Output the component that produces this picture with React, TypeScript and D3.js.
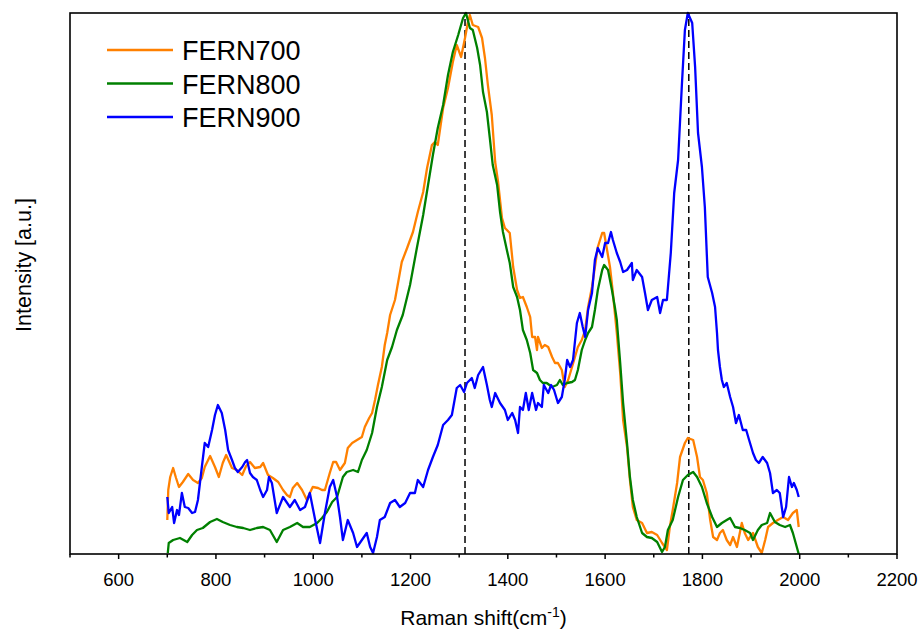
import React from "react";
import * as d3 from "d3";

const fern700: [number, number][] = [
  [700,34],[702,64],[706,77],[712,86],[718,76],[724,67],[732,72],[743,80],[753,74],[763,71],[771,76],[777,87],[788,98],[798,87],[806,77],[814,91],[821,99],[833,86],[843,84],[854,79],[862,88],[870,92],[880,86],[891,87],[897,91],[907,79],[917,76],[928,72],[938,64],[946,59],[952,57],[958,66],[967,71],[977,64],[987,54],[993,61],[999,67],[1010,66],[1018,64],[1024,64],[1034,81],[1041,92],[1047,92],[1055,84],[1065,91],[1071,106],[1080,111],[1090,114],[1100,117],[1106,127],[1115,136],[1121,141],[1127,154],[1133,169],[1141,187],[1147,209],[1152,221],[1158,239],[1168,254],[1182,292],[1193,306],[1205,322],[1215,342],[1226,362],[1234,386],[1244,409],[1250,412],[1256,409],[1267,446],[1277,466],[1287,492],[1295,509],[1304,497],[1312,516],[1318,532],[1322,539],[1328,529],[1339,527],[1347,516],[1353,496],[1359,469],[1367,439],[1374,392],[1380,372],[1388,336],[1394,326],[1404,321],[1411,287],[1419,264],[1425,256],[1431,257],[1439,247],[1446,237],[1450,217],[1456,217],[1460,204],[1462,217],[1470,206],[1476,209],[1483,207],[1491,197],[1497,191],[1503,191],[1511,184],[1517,167],[1524,174],[1532,187],[1538,197],[1544,207],[1552,214],[1559,224],[1565,247],[1573,267],[1579,287],[1585,307],[1594,321],[1598,321],[1604,304],[1610,287],[1616,261],[1624,221],[1631,181],[1637,134],[1645,107],[1651,74],[1657,47],[1665,34],[1676,31],[1686,21],[1696,22],[1707,19],[1717,11],[1727,4],[1733,27],[1739,44],[1748,71],[1754,97],[1764,111],[1770,116],[1781,114],[1789,97],[1795,77],[1801,74],[1809,61],[1816,34],[1822,17],[1830,14],[1836,21],[1842,24],[1850,14],[1857,9],[1863,17],[1871,7],[1881,31],[1887,21],[1894,14],[1904,21],[1914,7],[1922,1],[1929,14],[1935,27],[1945,31],[1955,34],[1966,37],[1976,34],[1986,41],[1994,44],[1998,27]
];

const fern800: [number, number][] = [
  [701,1],[703,11],[712,14],[726,16],[741,12],[751,19],[761,24],[773,26],[788,32],[802,35],[814,32],[829,29],[843,27],[856,26],[870,24],[884,26],[897,27],[911,24],[925,12],[938,24],[952,27],[967,31],[979,27],[993,27],[1008,31],[1018,36],[1028,42],[1039,52],[1049,57],[1055,67],[1061,77],[1069,82],[1082,84],[1092,82],[1100,94],[1110,104],[1121,121],[1131,147],[1141,167],[1152,194],[1162,207],[1172,224],[1184,239],[1199,269],[1213,306],[1226,339],[1236,369],[1246,399],[1256,426],[1267,449],[1277,479],[1287,502],[1298,519],[1308,536],[1314,541],[1322,526],[1328,524],[1337,506],[1343,489],[1349,462],[1357,442],[1363,416],[1369,389],[1378,369],[1384,342],[1390,322],[1398,304],[1404,291],[1411,267],[1419,257],[1425,244],[1431,224],[1439,214],[1446,201],[1452,184],[1460,181],[1466,174],[1472,171],[1480,171],[1491,167],[1501,169],[1507,174],[1513,169],[1522,171],[1532,172],[1538,174],[1544,184],[1552,204],[1559,214],[1565,221],[1573,227],[1579,244],[1585,264],[1594,284],[1598,289],[1606,284],[1614,264],[1620,247],[1624,234],[1631,191],[1637,151],[1645,111],[1651,77],[1657,54],[1665,37],[1676,21],[1686,17],[1696,16],[1707,12],[1717,2],[1723,7],[1729,24],[1739,34],[1750,57],[1760,74],[1770,79],[1781,82],[1789,77],[1799,67],[1809,51],[1820,37],[1830,27],[1840,31],[1850,34],[1857,36],[1867,27],[1877,26],[1887,24],[1898,21],[1904,14],[1914,24],[1922,29],[1933,31],[1939,41],[1949,32],[1959,29],[1970,27],[1980,29],[1986,21],[1994,7],[1998,0]
];

const fern900: [number, number][] = [
  [700,57],[703,41],[710,47],[714,31],[720,44],[724,39],[730,61],[736,47],[743,46],[751,41],[757,42],[763,54],[771,87],[777,111],[784,107],[792,124],[798,139],[804,149],[812,141],[819,124],[825,104],[833,94],[839,86],[845,82],[854,87],[860,92],[864,94],[870,81],[876,77],[884,74],[891,64],[897,57],[905,64],[909,77],[915,71],[925,41],[938,57],[952,47],[962,54],[973,44],[983,47],[993,61],[1004,34],[1014,11],[1024,41],[1034,67],[1041,74],[1049,57],[1055,37],[1061,14],[1071,34],[1082,21],[1090,7],[1100,14],[1110,21],[1117,7],[1123,1],[1131,17],[1137,34],[1147,37],[1158,51],[1168,54],[1178,47],[1189,51],[1199,61],[1209,61],[1215,74],[1226,67],[1236,84],[1246,97],[1256,109],[1267,129],[1277,134],[1285,139],[1295,166],[1302,169],[1310,162],[1316,171],[1326,176],[1332,166],[1339,179],[1349,187],[1357,169],[1363,154],[1367,147],[1374,161],[1384,151],[1394,144],[1400,134],[1409,141],[1415,134],[1421,121],[1425,147],[1431,144],[1437,161],[1443,144],[1450,161],[1458,144],[1462,151],[1470,147],[1474,169],[1483,161],[1489,169],[1495,164],[1503,151],[1511,157],[1517,174],[1522,194],[1528,187],[1534,194],[1542,231],[1548,241],[1554,227],[1559,217],[1565,244],[1573,261],[1579,294],[1585,306],[1594,297],[1600,311],[1606,311],[1612,322],[1616,314],[1624,301],[1631,292],[1637,282],[1645,284],[1655,291],[1657,274],[1665,284],[1676,277],[1682,261],[1688,244],[1696,254],[1707,257],[1713,241],[1719,254],[1727,254],[1735,301],[1742,361],[1750,394],[1758,471],[1764,524],[1770,541],[1779,531],[1785,487],[1791,421],[1799,387],[1805,347],[1811,277],[1820,261],[1826,247],[1830,221],[1832,204],[1836,187],[1840,174],[1844,167],[1850,171],[1857,157],[1863,147],[1869,131],[1875,139],[1883,124],[1890,124],[1896,114],[1904,101],[1910,94],[1916,91],[1924,97],[1933,91],[1939,81],[1945,61],[1953,64],[1959,61],[1966,37],[1972,47],[1978,77],[1984,67],[1988,71],[1994,64],[1998,57]
];

const seriesNames = ["FERN700", "FERN800", "FERN900"];
const seriesColors = ["#FF8000", "#008000", "#0000FF"];
const majorTicks = [600, 800, 1000, 1200, 1400, 1600, 1800, 2000, 2200];
const minorTicks = [500, 700, 900, 1100, 1300, 1500, 1700, 1900, 2100];
const markerLines = [1312, 1772];

const W = 921, H = 630;
const M = { left: 70, right: 24, top: 13, bottom: 76 };
const FONT = "'Liberation Sans', Arial, sans-serif";

export default function App() {
  const x = d3.scaleLinear().domain([500, 2200]).range([M.left, W - M.right]);
  const y = d3.scaleLinear().domain([0, 541]).range([H - M.bottom, M.top]);
  const line = d3.line<[number, number]>().x(d => x(d[0])).y(d => y(d[1]));
  const all = [fern700, fern800, fern900];
  const y0 = y(0);
  return (
    <svg width={W} height={H} style={{ position: "absolute", left: 0, top: 0, background: "#fff" }} fontFamily={FONT}>
      <rect x={0} y={0} width={W} height={H} fill="#fff" />
      {markerLines.map(v => (
        <line key={v} x1={x(v)} x2={x(v)} y1={y0} y2={M.top} stroke="#000" strokeWidth={1.5} strokeDasharray="7,4" />
      ))}
      {all.map((s, i) => (
        <path key={i} d={line(s) || ""} fill="none" stroke={seriesColors[i]} strokeWidth={2.3} strokeLinejoin="round" />
      ))}
      <rect x={M.left} y={M.top} width={W - M.right - M.left} height={y0 - M.top} fill="none" stroke="#000" strokeWidth={1.6} />
      {majorTicks.map(t => (
        <g key={t}>
          <line x1={x(t)} x2={x(t)} y1={y0} y2={y0 + 5} stroke="#000" strokeWidth={1.5} />
          <text x={x(t)} y={586} textAnchor="middle" fontSize={18.5} fill="#000">{t}</text>
        </g>
      ))}
      {minorTicks.map(t => (
        <line key={t} x1={x(t)} x2={x(t)} y1={y0} y2={y0 + 3.5} stroke="#000" strokeWidth={1.5} />
      ))}
      <text x={(M.left + W - M.right) / 2} y={625} textAnchor="middle" fontSize={21} fill="#000">
        Raman shift(cm<tspan dy={-8} fontSize={14}>-1</tspan><tspan dy={8}>)</tspan>
      </text>
      <text transform={`translate(31,265) rotate(-90)`} textAnchor="middle" fontSize={21.5} fill="#000">Intensity [a.u.]</text>
      {seriesNames.map((n, i) => (
        <g key={n}>
          <line x1={107} x2={173} y1={50 + i * 33.5} y2={50 + i * 33.5} stroke={seriesColors[i]} strokeWidth={2.3} />
          <text x={182} y={60 + i * 33.5} fontSize={27} fill="#000">{n}</text>
        </g>
      ))}
    </svg>
  );
}
